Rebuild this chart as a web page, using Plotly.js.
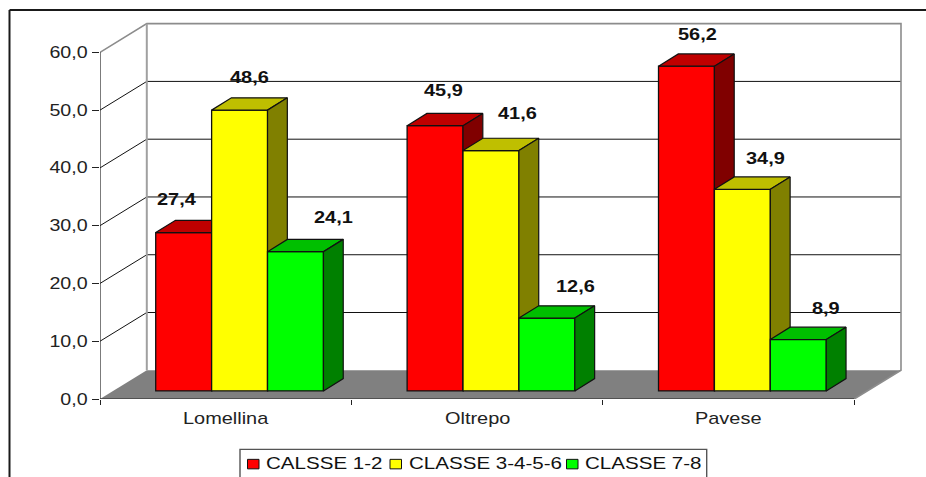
<!DOCTYPE html>
<html>
<head>
<meta charset="utf-8">
<script src="https://cdn.plot.ly/plotly-3.0.1.min.js"></script>
<style>
html,body{margin:0;padding:0;background:#fff;overflow:hidden}
#chart{width:926px;height:477px}
/* the reference's lettering is Arial stretched sideways */
text.annotation-text{transform-box:fill-box;transform-origin:center;transform:scaleX(1.27)}
text.annotation-text[data-unformatted^="CALSSE"],text.annotation-text[data-unformatted^="CLASSE"]{transform-origin:left center;transform:scaleX(1.31)}
.ytick text{transform-box:fill-box;transform-origin:right center;scale:1.25 1}
</style>
</head>
<body>
<div id="chart"></div>
<script>
// ---- data ----
var categories = ['Lomellina', 'Oltrepo', 'Pavese'];
var seriesNames = ['CALSSE 1-2', 'CLASSE 3-4-5-6', 'CLASSE 7-8'];
var classe12 = [27.4, 45.9, 56.2];
var classe3456 = [48.6, 41.6, 34.9];
var classe78 = [24.1, 12.6, 8.9];
var yTicks = [0, 10, 20, 30, 40, 50, 60];

// ---- styling / geometry ----
var W = 926, H = 477;
var ML = 100, PLOT_R = 915, PLOT_T = 15, Y0 = 398.7;
var PX_CAT = 251.4, PX_UNIT = 5.773;
var xMax = (PLOT_R - ML) / PX_CAT, yMax = (Y0 - PLOT_T) / PX_UNIT;
var WX = 46.8 / PX_CAT, WY = 4.97;            // depth of the chart box
var DX = 19.8 / PX_CAT, DY = 2.13;            // depth of a bar
var BASE = 1.4, START = 0.2216, BW = 0.2224;  // bar placement
var allSeries = [classe12, classe3456, classe78];
var front = ['#FF0000', '#FFFF00', '#00FF00'];
var topC = ['#BF0000', '#BFBF00', '#00BF00'];
var sideC = ['#800000', '#808000', '#008000'];
var labelDx = [[-7, 8, 11], [9.5, 26.5, 23.5], [38, 28.5, 28]];
var labelDy = [[33, 35, 32], [33, 37, 30.5], [34, 32, 31]];
var N = categories.length;
var FONT = 'Liberation Sans', FS = 15.7, INK = '#111';

function px(x) { return (x - ML) / (PLOT_R - ML); }
function py(y) { return (Y0 - y) / (Y0 - PLOT_T); }

var traces = [];
function line(xs, ys, color, width) {
  traces.push({type: 'scatter', mode: 'lines', x: xs, y: ys, line: {color: color, width: width},
    hoverinfo: 'skip', showlegend: false, cliponaxis: false});
}
function poly(xs, ys, fill, xa, ya, lw) {
  traces.push({type: 'scatter', mode: 'lines', x: xs, y: ys, fill: 'toself', fillcolor: fill,
    line: {color: lw ? '#111' : fill, width: lw || 0}, hoverinfo: 'skip', showlegend: false,
    xaxis: xa || 'x', yaxis: ya || 'y', cliponaxis: false});
}

// floor
poly([0, WX, N + WX, N, 0], [0, WY, WY, 0, 0], '#808080');
// gridlines on the back wall and the left wall
var gx = [], gy = [];
yTicks.slice(1, -1).forEach(function (t) {
  gx.push(0, WX, N + WX, null);
  gy.push(t, t + WY, t + WY, null);
});
line(gx, gy, '#111', 1);
var top60 = yTicks[yTicks.length - 1];
line([0, WX, N + WX, N + WX, N], [top60, top60 + WY, top60 + WY, WY, 0], '#8c8c8c', 1.6);
line([WX, WX], [WY, top60 + WY], '#a0a0a0', 2);
// front axis lines
line([0, 0], [0, top60], '#222', 1.2);
line([0, N], [0, 0], '#222', 1.2);

// bars, one overlaid subplot per series so later series cover earlier ones
allSeries.forEach(function (vals, s) {
  var suffix = String(s + 2);
  var xa = 'x' + suffix, ya = 'y' + suffix;
  var xs = categories.map(function (c, i) { return i + START + (s + 0.5) * BW; });
  traces.push({type: 'bar', name: seriesNames[s], x: xs, y: vals, base: BASE, width: BW,
    marker: {color: front[s], line: {color: '#111', width: 1.3}}, showlegend: false,
    hovertemplate: '%{y:.1f}<extra>' + seriesNames[s] + '</extra>', xaxis: xa, yaxis: ya});
  var tx = [], ty = [], sx = [], sy = [];
  vals.forEach(function (v, i) {
    var x0 = i + START + s * BW, x1 = x0 + BW, t = BASE + v;
    tx.push(x0, x1, x1 + DX, x0 + DX, x0, null);
    ty.push(t, t, t + DY, t + DY, t, null);
    sx.push(x1, x1, x1 + DX, x1 + DX, x1, null);
    sy.push(BASE, t, t + DY, BASE + DY, BASE, null);
  });
  poly(tx, ty, topC[s], xa, ya, 1.2);
  poly(sx, sy, sideC[s], xa, ya, 1.2);
});

// data labels
var annotations = [];
allSeries.forEach(function (vals, s) {
  vals.forEach(function (v, i) {
    annotations.push({x: i + START + (s + 0.5) * BW, y: BASE + v, xref: 'x', yref: 'y',
      text: v.toFixed(1).replace('.', ','), showarrow: false, xanchor: 'center', yanchor: 'middle',
      xshift: labelDx[s][i], yshift: labelDy[s][i],
      font: {family: FONT, size: FS, color: INK, weight: 700}});
  });
});
// category labels
categories.forEach(function (c, i) {
  annotations.push({x: i + 0.5, xref: 'x', yref: 'paper', y: py(418), text: c, showarrow: false,
    xanchor: 'center', yanchor: 'middle', font: {family: FONT, size: FS, color: '#222'}});
});

// frame and legend
var shapes = [
  {type: 'line', xref: 'paper', yref: 'paper', x0: px(9.5), x1: px(926), y0: py(10), y1: py(10), line: {color: '#1a1a1a', width: 2}},
  {type: 'line', xref: 'paper', yref: 'paper', x0: px(9.5), x1: px(9.5), y0: py(10), y1: py(477), line: {color: '#1a1a1a', width: 2}},
  {type: 'path', xref: 'paper', yref: 'paper',
   path: 'M' + px(240) + ',' + py(477) + 'L' + px(240) + ',' + py(449) + 'L' + px(706.7) + ',' + py(449) + 'L' + px(706.7) + ',' + py(477),
   line: {color: '#555', width: 1.4}}
];
var swatchX = [247.5, 390, 566.5], legendTextX = [263.5, 406.5, 582.5];
seriesNames.forEach(function (n, s) {
  shapes.push({type: 'rect', xref: 'paper', yref: 'paper', x0: px(swatchX[s]), x1: px(swatchX[s] + 11.5),
    y0: py(468.5), y1: py(459), fillcolor: front[s], line: {color: '#111', width: 1}});
  annotations.push({xref: 'paper', yref: 'paper', x: px(legendTextX[s]), y: py(462.5), text: n, showarrow: false,
    xanchor: 'left', yanchor: 'middle', font: {family: FONT, size: FS, color: INK}});
});

var hiddenX = {range: [0, xMax], domain: [0, 1], visible: false, fixedrange: true, overlaying: 'x'};
var hiddenY = {range: [0, yMax], domain: [0, 1], visible: false, fixedrange: true, overlaying: 'y'};

var layout = {
  width: W, height: H,
  margin: {l: ML, r: W - PLOT_R, t: PLOT_T, b: H - Y0, pad: 0},
  paper_bgcolor: '#fff', plot_bgcolor: 'rgba(0,0,0,0)',
  showlegend: false, barmode: 'overlay', separators: ', ',
  font: {family: FONT, color: '#222'},
  xaxis: {range: [0, xMax], domain: [0, 1], showgrid: false, zeroline: false, showline: false, fixedrange: true,
    tickmode: 'array', tickvals: [0, 1, 2, 3], ticktext: ['', '', '', ''], ticks: 'outside', ticklen: 5, tickwidth: 1, tickcolor: '#222'},
  yaxis: {range: [0, yMax], domain: [0, 1], showgrid: false, zeroline: false, showline: false, fixedrange: true,
    tickmode: 'array', tickvals: yTicks, tickformat: '.1f', ticks: 'outside', ticklen: 7, tickwidth: 1, tickcolor: '#222',
    ticklabelstandoff: 1, tickfont: {size: FS, color: '#222', family: FONT}},
  xaxis2: hiddenX, yaxis2: hiddenY, xaxis3: hiddenX, yaxis3: hiddenY, xaxis4: hiddenX, yaxis4: hiddenY,
  shapes: shapes, annotations: annotations
};
Plotly.newPlot('chart', traces, layout, {displayModeBar: false, staticPlot: true});
</script>
</body>
</html>
